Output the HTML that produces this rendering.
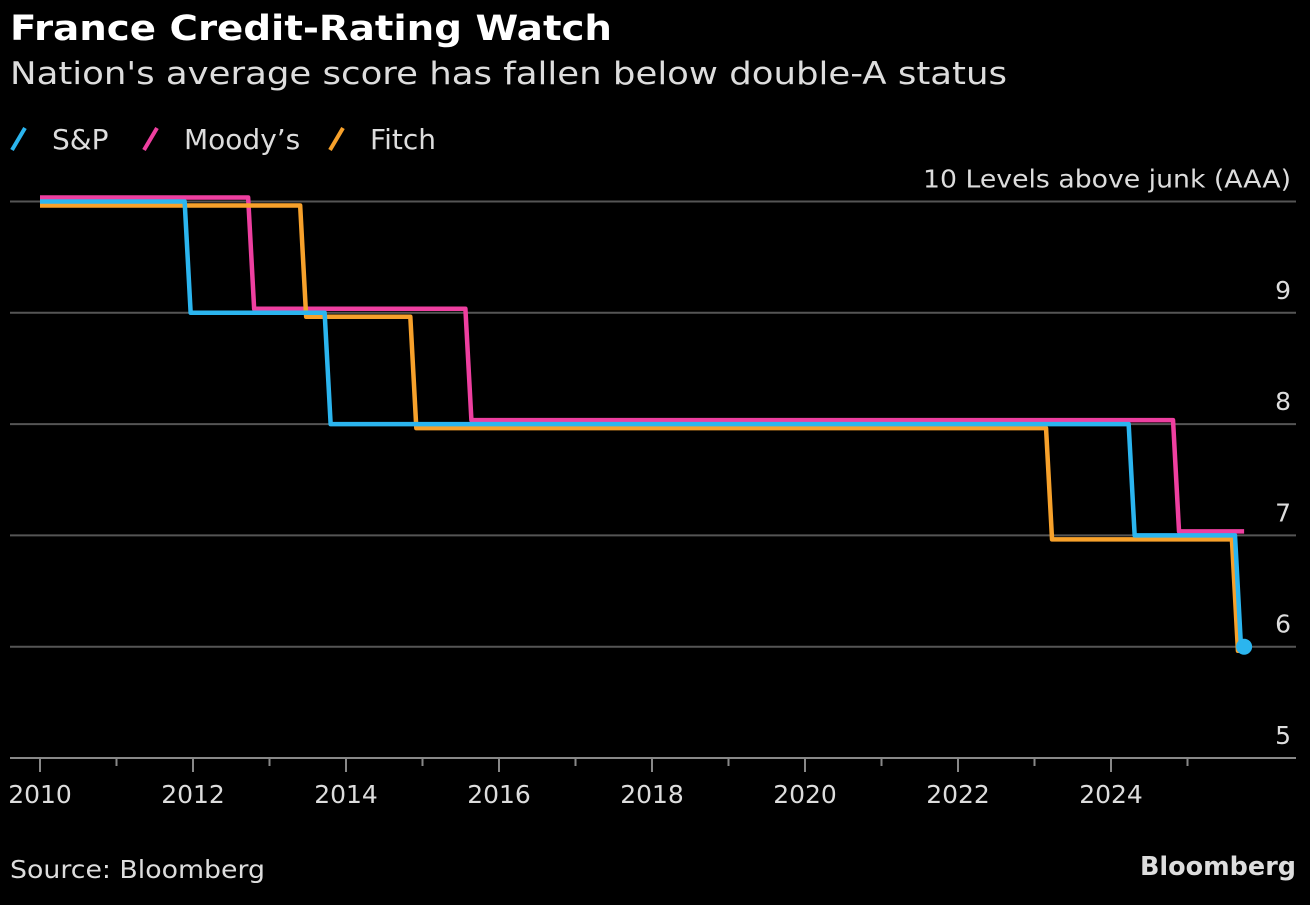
<!DOCTYPE html>
<html><head><meta charset="utf-8"><style>
body{margin:0;background:#000;width:1310px;height:901px;overflow:hidden;font-family:"DejaVu Sans","Liberation Sans",sans-serif;color:#fff}
text{font-family:"DejaVu Sans","Liberation Sans",sans-serif}
</style></head><body>
<svg width="1310" height="901" xmlns="http://www.w3.org/2000/svg">
<text x="10" y="40" font-size="35" font-weight="bold" fill="#fff" textLength="602" lengthAdjust="spacingAndGlyphs">France Credit-Rating Watch</text>
<text x="10" y="84" font-size="31" fill="#ddd" textLength="997" lengthAdjust="spacingAndGlyphs">Nation's average score has fallen below double-A status</text>
<g id="legend"></g>
<g id="grid"></g><g id="axis"></g><g id="lines"></g>
<text x="10" y="878" font-size="25" fill="#ddd" textLength="255" lengthAdjust="spacingAndGlyphs">Source: Bloomberg</text>
<text x="1296" y="875" font-size="26" font-weight="bold" fill="#ddd" text-anchor="end" textLength="156" lengthAdjust="spacingAndGlyphs">Bloomberg</text>
</svg>
<script>
const levels=[5,6,7,8,9,10];
const levelLabels=["5","6","7","8","9","10 Levels above junk (AAA)"];
const years=[2010,2012,2014,2016,2018,2020,2022,2024];
const seriesNames=["S&P","Moody's","Fitch"];
const spChanges=[[2010,10],[2011.93,9],[2013.76,8],[2024.27,7],[2025.66,6]];
const moodysChanges=[[2010,10],[2012.76,9],[2015.6,8],[2024.85,7]];
const fitchChanges=[[2010,10],[2013.44,9],[2014.88,8],[2023.19,7],[2025.62,6]];
const endDate=2025.74;
const colors=["#2bb5ef","#ee3fa0","#f7a12b"];
const offsets=[0,-4,4];
const NS="http://www.w3.org/2000/svg";
const x=d=>40+(d-2010)*76.5;
const y=v=>758-(v-5)*111.3;
function mk(tag,at,parent){const e=document.createElementNS(NS,tag);for(const k in at)e.setAttribute(k,at[k]);document.getElementById(parent).appendChild(e);return e;}
levels.forEach((l,i)=>{
  const g=mk('line',{x1:10,x2:1296,y1:y(l),y2:y(l),stroke:l===5?'#888':'#555','stroke-width':2},'grid');
  
  
  const at={x:1291,y:y(l)-14,'font-size':25,fill:'#ddd','text-anchor':'end'};
  if(l===10){at.textLength=368;at.lengthAdjust='spacingAndGlyphs';}
  const t=mk('text',at,'grid');
  t.textContent=levelLabels[i];
  
  
});
for(let yr=2010;yr<=2025;yr++){
  const tk=mk('line',{x1:x(yr),x2:x(yr),y1:758,y2:yr%2===0?772:766,stroke:'#888','stroke-width':2},'axis');
  
  
}
years.forEach(yr=>{
  const t=mk('text',{x:x(yr),y:803,'font-size':25,fill:'#ddd','text-anchor':'middle'},'axis');
  t.textContent=yr;
  
  
});
[spChanges,moodysChanges,fitchChanges].forEach((ch,i)=>{
  let pts=[];
  ch.forEach((c,j)=>{
    if(j>0)pts.push([x(c[0])-3,y(ch[j-1][1])+offsets[i]]);
    pts.push([x(c[0])+3*(j>0),y(c[1])+offsets[i]]);
  });
  pts.push([x(endDate)-(i===2?4:0),y(ch[ch.length-1][1])+offsets[i]]);
  const p=mk('polyline',{points:pts.map(p=>p.join(',')).join(' '),fill:'none',stroke:colors[i],'stroke-width':4.5,'stroke-linejoin':'round'},'lines');
  
  
});
const lines=document.getElementById('lines');lines.appendChild(lines.firstChild);
const dot=mk('circle',{cx:x(endDate),cy:y(spChanges[spChanges.length-1][1]),r:8,fill:colors[0]},'lines');


const lx=[12,144,330];
seriesNames.forEach((n,i)=>{
  const s=mk('line',{x1:lx[i],y1:150,x2:lx[i]+13,y2:128,stroke:colors[i],'stroke-width':4},'legend');
  
  
  const t=mk('text',{x:lx[i]+40,y:149,'font-size':28,fill:'#ddd'},'legend');
  t.textContent=n==="Moody's"?"Moody’s":n;
  
  
});
</script>
</body></html>
